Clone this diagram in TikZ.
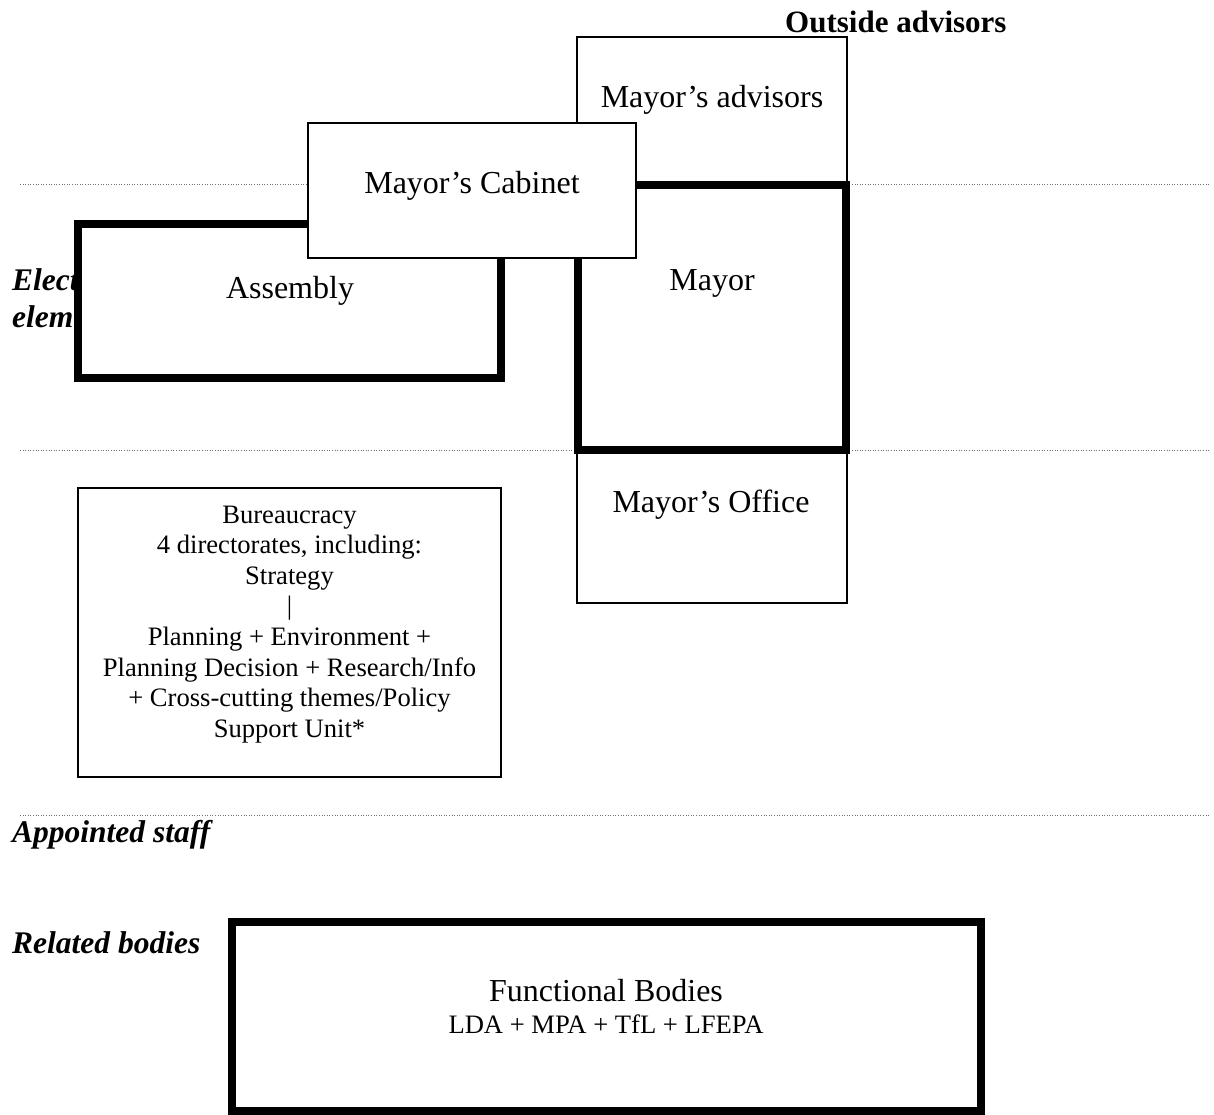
\documentclass[tikz,border=0pt]{standalone}
\usepackage{fontspec}
\setmainfont{Liberation Serif}
\begin{document}
\begin{tikzpicture}[x=1pt,y=-1pt,
  thinbox/.style={draw=black,line width=1.5pt,fill=white,rectangle,inner sep=0pt,outer sep=0pt},
  thickbox/.style={draw=black,line width=8pt,fill=white,rectangle,inner sep=0pt,outer sep=0pt},
  sep/.style={draw=black!55,line width=1pt,dash pattern=on 1pt off 1.6pt},
  boxtext/.style={inner sep=0pt,anchor=base,font=\fontsize{32}{38}\selectfont},
  smalltext/.style={inner sep=0pt,anchor=base,font=\fontsize{26.6}{30.6}\selectfont},
  lbl/.style={inner sep=0pt,anchor=base west,font=\fontsize{31.5}{37}\selectfont\bfseries\itshape}
]
\useasboundingbox (0,0) rectangle (1214,1115);
% separators
\coordinate (s1a) at (20,185); \coordinate (s1b) at (1210,185);
\coordinate (s2a) at (20,450); \coordinate (s2b) at (1210,450);
\coordinate (s3a) at (20,815); \coordinate (s3b) at (1210,815);
\draw[sep] (s1a) -- (s1b);
\draw[sep] (s2a) -- (s2b);
\draw[sep] (s3a) -- (s3b);
% side labels
\node[lbl] (el1) at (12,290) {Elected};
\node[lbl] (el2) at (12,327) {elements};
\node[inner sep=0pt,anchor=base west,font=\fontsize{31}{37}\selectfont\bfseries] (outs) at (785,33) {Outside advisors};
\node[lbl] (appt) at (12,842) {Appointed staff};
\node[lbl] (rel) at (12,953) {Related bodies};
% boxes
\node[thinbox,minimum width=270pt,minimum height=148pt] (adv) at (712,111) {};
\node[thinbox,minimum width=270pt,minimum height=153pt] (off) at (712,526.5) {};
\node[thickbox,minimum width=423pt,minimum height=154pt] (asm) at (289.5,301) {};
\node[thickbox,minimum width=268pt,minimum height=265pt] (may) at (712,317.5) {};
\node[thinbox,minimum width=328pt,minimum height=135pt] (cab) at (472,190.5) {};
\node[thinbox,minimum width=423pt,minimum height=289pt] (bur) at (289.5,632.5) {};
\node[thickbox,minimum width=749pt,minimum height=189pt] (fb) at (606.5,1016.5) {};
% texts
\node[boxtext] (advt) at (712,108) {Mayor’s advisors};
\node[boxtext] (cabt) at (472,194) {Mayor’s Cabinet};
\node[boxtext] (asmt) at (290,298) {Assembly};
\node[boxtext] (mayt) at (712,290) {Mayor};
\node[boxtext] (offt) at (711,512) {Mayor’s Office};
\node[smalltext,anchor=north,align=center] (burt) at (289.5,505.4) {Bureaucracy\\4 directorates, including:\\Strategy\\|\\Planning + Environment +\\Planning Decision + Research/Info\\+ Cross-cutting themes/Policy\\Support Unit*};
\node[boxtext] (fbt) at (606,1001) {Functional Bodies};
\node[smalltext] (fbs) at (606,1033) {LDA + MPA + TfL + LFEPA};
\end{tikzpicture}
\end{document}
